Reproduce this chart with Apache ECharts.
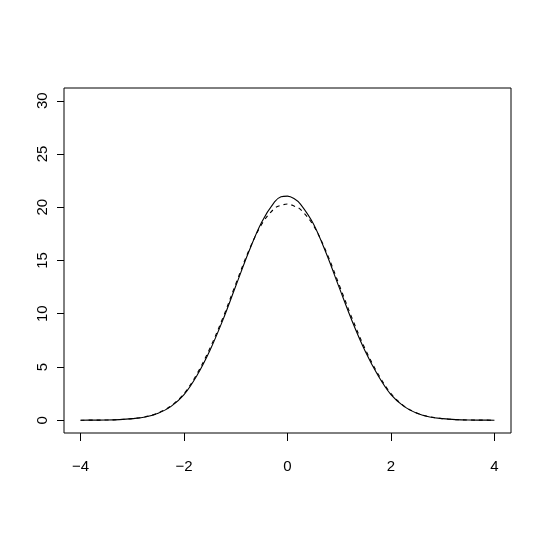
<!DOCTYPE html>
<html>
<head>
<meta charset="utf-8">
<script src="https://cdn.jsdelivr.net/npm/echarts@6/dist/echarts.min.js"></script>
<style>
  html, body { margin: 0; padding: 0; background: #fff; }
  #chart { width: 545px; height: 545px; }
</style>
</head>
<body>
<div id="chart"></div>
<script>
const xs = [-4, -3.75, -3.5, -3.25, -3, -2.75, -2.5, -2.25, -2, -1.75, -1.5, -1.25, -1, -0.75, -0.5, -0.25, -0.125,
  0, 0.125, 0.25, 0.5, 0.75, 1, 1.25, 1.5, 1.75, 2, 2.25, 2.5, 2.75, 3, 3.25, 3.5, 3.75, 4]
// solid curve
const solidY = [0, 0.01, 0.02, 0.06, 0.15, 0.3, 0.65, 1.3, 2.4, 4.2, 6.55, 9.4, 12.6, 15.8, 18.6, 20.5, 20.98,
  21.05, 20.82, 20.3, 18.45, 15.65, 12.45, 9.3, 6.5, 4.2, 2.4, 1.3, 0.65, 0.3, 0.15, 0.06, 0.02, 0.01, 0]
// dashed curve
const dashedY = [0, 0.01, 0.02, 0.06, 0.15, 0.32, 0.68, 1.35, 2.5, 4.35, 6.75, 9.6, 12.8, 15.9, 18.4, 19.9, 20.18,
  20.3, 20.12, 19.8, 18.3, 15.8, 12.7, 9.55, 6.7, 4.35, 2.5, 1.35, 0.68, 0.32, 0.15, 0.06, 0.02, 0.01, 0]

const xTicks = [-4, -2, 0, 2, 4]
const yTicks = [0, 5, 10, 15, 20, 25, 30]

const zip = ys => xs.map((x, i) => [x, ys[i]])

const c = echarts.init(document.getElementById('chart'))
c.setOption({
  animation: false,
  grid: { left: 64, right: 34, top: 88, bottom: 112, show: true, borderColor: '#000', borderWidth: 1 },
  xAxis: {
    type: 'value', min: -4.32, max: 4.32,
    splitLine: { show: false },
    axisLine: { show: false, onZero: false },
    axisTick: { show: true, length: 8, customValues: xTicks, lineStyle: { color: '#000' } },
    axisLabel: {
      customValues: xTicks, margin: 26, color: '#000', fontSize: 15,
      fontFamily: 'Liberation Sans Narrow, Arial Narrow, Liberation Sans, sans-serif',
      formatter: v => String(v).replace('-', '\u2212')
    }
  },
  yAxis: {
    type: 'value', min: -1.2, max: 31.2,
    splitLine: { show: false },
    axisLine: { show: false, onZero: false },
    axisTick: { show: true, length: 7, customValues: yTicks, lineStyle: { color: '#000' } },
    axisLabel: {
      customValues: yTicks, rotate: 90, margin: 14, color: '#000', fontSize: 15,
      fontFamily: 'Liberation Sans, sans-serif'
    }
  },
  series: [
    {
      type: 'line', data: zip(solidY), smooth: 0.35, showSymbol: false,
      lineStyle: { color: '#000', width: 1.1 }
    },
    {
      type: 'line', data: zip(dashedY), smooth: 0.35, showSymbol: false,
      lineStyle: { color: '#000', width: 1.1, type: [4, 4] }
    }
  ]
})
window.addEventListener('resize', () => c.resize())
</script>
</body>
</html>
